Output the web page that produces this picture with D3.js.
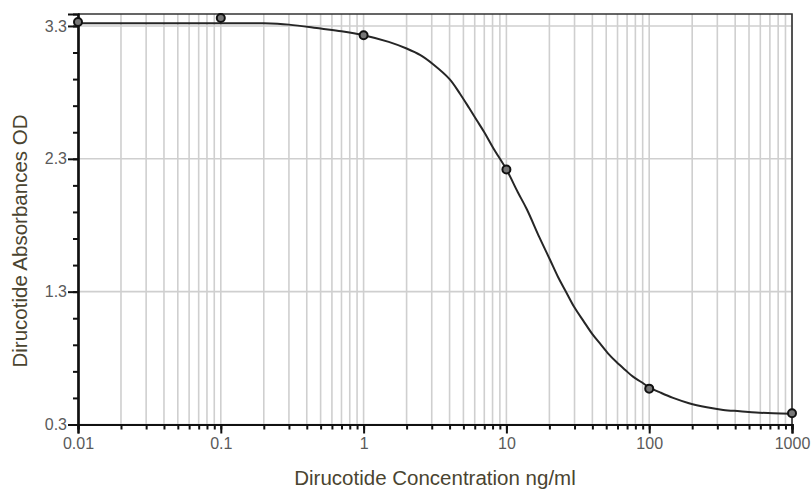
<!DOCTYPE html>
<html>
<head>
<meta charset="utf-8">
<script src="https://cdn.jsdelivr.net/npm/d3@7"></script>
<style>
    body { margin: 0; background: #fff; }
    svg { display: block; font-family: "Liberation Sans", Arial, sans-serif; }
</style>
</head>
<body>
<svg id="chart" width="812" height="490"></svg>
<script>
// measured standards
var concentrations = [0.01, 0.1, 1, 10, 100, 1000];
var absorbances = [3.33, 3.36, 3.23, 2.22, 0.57, 0.385];

// fitted curve
var curveConc = [0.01, 0.1, 0.2, 0.3, 0.5, 0.7, 1, 1.5, 2, 2.5, 3.08, 4, 4.73, 5.5, 6.2, 7, 8.1, 10, 12, 13.9, 17, 20.2, 23, 26.4, 30, 34.6, 40, 45.2, 52, 59, 68, 77, 88, 100, 120, 147, 190, 253, 330, 432, 560, 740, 1000];
var curveOD = [3.32, 3.32, 3.32, 3.31, 3.28, 3.26, 3.23, 3.18, 3.13, 3.08, 3.01, 2.90, 2.79, 2.68, 2.59, 2.50, 2.38, 2.22, 2.05, 1.92, 1.71, 1.54, 1.41, 1.29, 1.18, 1.08, 0.98, 0.91, 0.83, 0.77, 0.71, 0.66, 0.62, 0.58, 0.54, 0.50, 0.46, 0.43, 0.41, 0.40, 0.39, 0.385, 0.38];

var xTickLabels = ["0.01", "0.1", "1", "10", "100", "1000"];
var yTickLabels = ["0.3", "1.3", "2.3", "3.3"];

var svg = d3.select("#chart");
var margin = {top: 14, right: 20, bottom: 65.5, left: 78};
var width = 812 - margin.left - margin.right;
var height = 490 - margin.top - margin.bottom;

var x = d3.scaleLog().domain([0.01, 1000]).range([0, width]);
var y = d3.scaleLinear().domain([0.3, 3.39]).range([height, 0]);

var g = svg.append("g")
    .attr("transform", "translate(" + margin.left + "," + margin.top + ")");

// all log ticks (1..9 per decade)
var logTicks = x.ticks();
var majorX = xTickLabels.map(Number);
var majorY = yTickLabels.map(Number);
var minorY = d3.range(0, 16).map(function (i) { return +(0.3 + i * 0.2).toFixed(1); });

// grid
g.append("g").selectAll("line")
    .data(logTicks)
    .enter().append("line")
    .attr("x1", function (d) { return x(d); })
    .attr("x2", function (d) { return x(d); })
    .attr("y1", 0)
    .attr("y2", height)
    .attr("stroke", "#cfcfcf")
    .attr("stroke-width", 1.6);

g.append("g").selectAll("line")
    .data(majorY)
    .enter().append("line")
    .attr("x1", 0)
    .attr("x2", width)
    .attr("y1", function (d) { return y(d); })
    .attr("y2", function (d) { return y(d); })
    .attr("stroke", "#cfcfcf")
    .attr("stroke-width", 1.6);

// frame top/right
g.append("path")
    .attr("d", "M0,0H" + width + "V" + height)
    .attr("fill", "none")
    .attr("stroke", "#333")
    .attr("stroke-width", 1.6);

// x axis: minor ticks then major ticks with labels
var xMinor = g.append("g")
    .attr("transform", "translate(0," + height + ")")
    .call(d3.axisBottom(x).tickValues(logTicks).tickSize(5).tickFormat(""));
var xMajor = g.append("g")
    .attr("transform", "translate(0," + height + ")")
    .call(d3.axisBottom(x).tickValues(majorX).tickSize(9)
        .tickFormat(function (d, i) { return xTickLabels[i]; }));

var yMinor = g.append("g")
    .call(d3.axisLeft(y).tickValues(minorY).tickSize(5).tickFormat(""));
var yMajor = g.append("g")
    .call(d3.axisLeft(y).tickValues(majorY).tickSize(10)
        .tickFormat(function (d, i) { return yTickLabels[i]; }));

[xMinor, xMajor, yMinor, yMajor].forEach(function (a) {
    a.select(".domain").attr("stroke", "#111").attr("stroke-width", 2.2);
    a.selectAll(".tick line").attr("stroke", "#111").attr("stroke-width", 2);
    a.selectAll("text").attr("fill", "#5a5a5a").attr("font-size", 16);
});
xMajor.selectAll("text").attr("dy", "1em").attr("y", 8);
yMajor.selectAll("text").attr("x", -11);

// fitted curve
var line = d3.line()
    .x(function (d) { return x(d[0]); })
    .y(function (d) { return y(d[1]); })
    .curve(d3.curveCatmullRom.alpha(0.5));

g.append("path")
    .datum(d3.zip(curveConc, curveOD))
    .attr("d", line)
    .attr("fill", "none")
    .attr("stroke", "#262626")
    .attr("stroke-width", 2);

// standards
g.append("g").selectAll("circle")
    .data(d3.zip(concentrations, absorbances))
    .enter().append("circle")
    .attr("cx", function (d) { return x(d[0]); })
    .attr("cy", function (d) { return y(d[1]); })
    .attr("r", 4)
    .attr("fill", "#777")
    .attr("stroke", "#111")
    .attr("stroke-width", 2);

// axis titles
svg.append("text")
    .attr("x", margin.left + width / 2)
    .attr("y", 485)
    .attr("text-anchor", "middle")
    .attr("font-size", 20.5)
    .attr("fill", "#4a4430")
    .text("Dirucotide Concentration ng/ml");

svg.append("text")
    .attr("transform", "translate(27," + 241 + ") rotate(-90)")
    .attr("text-anchor", "middle")
    .attr("font-size", 20.5)
    .attr("fill", "#4a4430")
    .text("Dirucotide Absorbances OD");
</script>
</body>
</html>
